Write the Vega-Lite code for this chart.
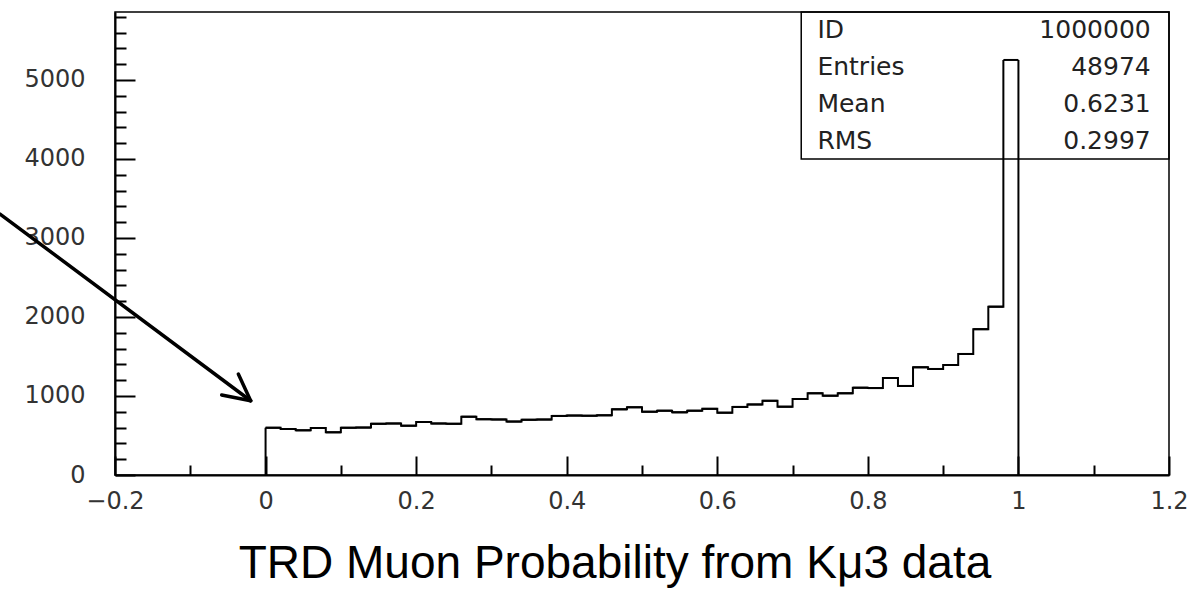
{
  "$schema": "https://vega.github.io/schema/vega-lite/v6.json",
  "width": 1054,
  "height": 463,
  "autosize": {"type": "none"},
  "padding": {"left": 115, "top": 12, "right": 27, "bottom": 115},
  "background": "white",
  "title": {
    "text": "TRD Muon Probability from Kμ3 data",
    "orient": "bottom",
    "anchor": "middle",
    "font": "Liberation Sans",
    "fontSize": 46,
    "fontWeight": "normal",
    "color": "black",
    "dx": -27,
    "offset": 20
  },
  "datasets": {
    "hist": [
      {"lo": 0, "hi": 0.02, "n": 598},
      {"lo": 0.02, "hi": 0.04, "n": 582},
      {"lo": 0.04, "hi": 0.06, "n": 565},
      {"lo": 0.06, "hi": 0.08, "n": 595},
      {"lo": 0.08, "hi": 0.1, "n": 540},
      {"lo": 0.1, "hi": 0.12, "n": 598},
      {"lo": 0.12, "hi": 0.14, "n": 600},
      {"lo": 0.14, "hi": 0.16, "n": 648},
      {"lo": 0.16, "hi": 0.18, "n": 652},
      {"lo": 0.18, "hi": 0.2, "n": 624},
      {"lo": 0.2, "hi": 0.22, "n": 671},
      {"lo": 0.22, "hi": 0.24, "n": 652},
      {"lo": 0.24, "hi": 0.26, "n": 648},
      {"lo": 0.26, "hi": 0.28, "n": 738},
      {"lo": 0.28, "hi": 0.3, "n": 706},
      {"lo": 0.3, "hi": 0.32, "n": 703},
      {"lo": 0.32, "hi": 0.34, "n": 676},
      {"lo": 0.34, "hi": 0.36, "n": 699},
      {"lo": 0.36, "hi": 0.38, "n": 702},
      {"lo": 0.38, "hi": 0.4, "n": 748},
      {"lo": 0.4, "hi": 0.42, "n": 752},
      {"lo": 0.42, "hi": 0.44, "n": 750},
      {"lo": 0.44, "hi": 0.46, "n": 755},
      {"lo": 0.46, "hi": 0.48, "n": 831},
      {"lo": 0.48, "hi": 0.5, "n": 857},
      {"lo": 0.5, "hi": 0.52, "n": 801},
      {"lo": 0.52, "hi": 0.54, "n": 814},
      {"lo": 0.54, "hi": 0.56, "n": 793},
      {"lo": 0.56, "hi": 0.58, "n": 814},
      {"lo": 0.58, "hi": 0.6, "n": 837},
      {"lo": 0.6, "hi": 0.62, "n": 789},
      {"lo": 0.62, "hi": 0.64, "n": 862},
      {"lo": 0.64, "hi": 0.66, "n": 893},
      {"lo": 0.66, "hi": 0.68, "n": 939},
      {"lo": 0.68, "hi": 0.7, "n": 865},
      {"lo": 0.7, "hi": 0.72, "n": 962},
      {"lo": 0.72, "hi": 0.74, "n": 1034},
      {"lo": 0.74, "hi": 0.76, "n": 1004},
      {"lo": 0.76, "hi": 0.78, "n": 1034},
      {"lo": 0.78, "hi": 0.8, "n": 1105},
      {"lo": 0.8, "hi": 0.82, "n": 1100},
      {"lo": 0.82, "hi": 0.84, "n": 1228},
      {"lo": 0.84, "hi": 0.86, "n": 1127},
      {"lo": 0.86, "hi": 0.88, "n": 1363},
      {"lo": 0.88, "hi": 0.9, "n": 1342},
      {"lo": 0.9, "hi": 0.92, "n": 1392},
      {"lo": 0.92, "hi": 0.94, "n": 1532},
      {"lo": 0.94, "hi": 0.96, "n": 1846},
      {"lo": 0.96, "hi": 0.98, "n": 2131},
      {"lo": 0.98, "hi": 1, "n": 5253}
    ],
    "arrow": [
      {"x": -0.3527, "y": 3303, "x2": -0.0198, "y2": 940},
      {"x": -0.0583, "y": 1012, "x2": -0.0198, "y2": 940},
      {"x": -0.0362, "y": 1278, "x2": -0.0198, "y2": 940}
    ],
    "stats": [
      {"row": 1, "label": "ID", "value": "1000000"},
      {"row": 2, "label": "Entries", "value": "48974"},
      {"row": 3, "label": "Mean", "value": "0.6231"},
      {"row": 4, "label": "RMS", "value": "0.2997"}
    ]
  },
  "resolve": {"scale": {"y": "independent"}},
  "layer": [
    {
      "data": {"name": "hist"},
      "mark": {"type": "line", "interpolate": "step-after", "color": "black", "strokeWidth": 2},
      "encoding": {
        "x": {
          "field": "lo", "type": "quantitative",
          "scale": {"domain": [-0.2, 1.2], "nice": false, "zero": false},
          "axis": {
            "orient": "bottom", "title": null,
            "values": [-0.2, -0.15, -0.1, -0.05, 0, 0.05, 0.1, 0.15, 0.2, 0.25, 0.3, 0.35, 0.4, 0.45, 0.5, 0.55, 0.6, 0.65, 0.7, 0.75, 0.8, 0.85, 0.9, 0.95, 1, 1.05, 1.1, 1.15, 1.2],
            "labelExpr": "abs(datum.value*5 - round(datum.value*5)) < 0.000001 ? format(datum.value, '~g') : ''",
            "tickSize": {"condition": {"test": "abs(datum.value*5 - round(datum.value*5)) < 0.000001", "value": -19}, "value": -10},
            "labelPadding": 33,
            "labelFlush": false, "labelOverlap": false, "labelBound": false
          }
        },
        "y": {
          "field": "n", "type": "quantitative",
          "scale": {"domain": [0, 5860], "nice": false, "zero": false},
          "axis": {
            "orient": "left", "title": null,
            "values": [0, 200, 400, 600, 800, 1000, 1200, 1400, 1600, 1800, 2000, 2200, 2400, 2600, 2800, 3000, 3200, 3400, 3600, 3800, 4000, 4200, 4400, 4600, 4800, 5000, 5200, 5400, 5600, 5800],
            "labelExpr": "datum.value % 1000 === 0 ? format(datum.value, 'd') : ''",
            "tickSize": {"condition": {"test": "datum.value % 1000 === 0", "value": -20}, "value": -11},
            "labelPadding": 50,
            "labelFlush": false, "labelOverlap": false, "labelBound": false
          }
        }
      }
    },
    {
      "data": {"name": "hist"},
      "mark": {"type": "rule", "color": "black", "strokeWidth": 2},
      "encoding": {
        "x": {"field": "lo", "type": "quantitative", "scale": {"domain": [-0.2, 1.2], "nice": false, "zero": false}},
        "x2": {"field": "hi"},
        "y": {"field": "n", "type": "quantitative", "scale": {"domain": [0, 5860], "nice": false, "zero": false}, "axis": null}
      }
    },
    {
      "data": {"name": "hist"},
      "transform": [{"filter": "datum.lo == 0"}],
      "mark": {"type": "rule", "color": "black", "strokeWidth": 2},
      "encoding": {
        "x": {"field": "lo", "type": "quantitative", "scale": {"domain": [-0.2, 1.2], "nice": false, "zero": false}},
        "y": {"field": "n", "type": "quantitative", "scale": {"domain": [0, 5860], "nice": false, "zero": true}, "axis": null},
        "y2": {"datum": 0}
      }
    },
    {
      "data": {"name": "hist"},
      "transform": [{"filter": "datum.hi == 1"}],
      "mark": {"type": "rule", "color": "black", "strokeWidth": 2},
      "encoding": {
        "x": {"field": "hi", "type": "quantitative", "scale": {"domain": [-0.2, 1.2], "nice": false, "zero": false}},
        "y": {"field": "n", "type": "quantitative", "scale": {"domain": [0, 5860], "nice": false, "zero": true}, "axis": null},
        "y2": {"datum": 0}
      }
    },
    {
      "data": {"name": "arrow"},
      "mark": {"type": "rule", "color": "black", "strokeWidth": 3.5, "strokeCap": "round"},
      "encoding": {
        "x": {"field": "x", "type": "quantitative", "scale": {"domain": [-0.2, 1.2], "nice": false, "zero": false}},
        "x2": {"field": "x2"},
        "y": {"field": "y", "type": "quantitative", "scale": {"domain": [0, 5860], "nice": false, "zero": false}, "axis": null},
        "y2": {"field": "y2"}
      }
    },
    {
      "data": {"name": "stats"},
      "transform": [{"filter": "datum.row == 1"}],
      "mark": {"type": "rect", "fillOpacity": 0, "stroke": "black", "strokeWidth": 1.5},
      "encoding": {
        "x": {"datum": 0.7115, "type": "quantitative", "scale": {"domain": [-0.2, 1.2], "nice": false, "zero": false}},
        "x2": {"datum": 1.2},
        "y": {"datum": 4000, "type": "quantitative", "scale": {"domain": [0, 5860], "nice": false, "zero": false}, "axis": null},
        "y2": {"datum": 5860}
      }
    },
    {
      "data": {"name": "stats"},
      "mark": {"type": "text", "align": "left", "baseline": "middle", "font": "DejaVu Sans", "fontSize": 25, "color": "#222"},
      "encoding": {
        "x": {"datum": 0.733, "type": "quantitative", "scale": {"domain": [-0.2, 1.2], "nice": false, "zero": false}},
        "y": {"field": "row", "type": "quantitative", "scale": {"domain": [0.5, 13.1], "reverse": true, "nice": false, "zero": false}, "axis": null},
        "text": {"field": "label"}
      }
    },
    {
      "data": {"name": "stats"},
      "mark": {"type": "text", "align": "right", "baseline": "middle", "font": "DejaVu Sans", "fontSize": 25, "color": "#222"},
      "encoding": {
        "x": {"datum": 1.1757, "type": "quantitative", "scale": {"domain": [-0.2, 1.2], "nice": false, "zero": false}},
        "y": {"field": "row", "type": "quantitative", "scale": {"domain": [0.5, 13.1], "reverse": true, "nice": false, "zero": false}, "axis": null},
        "text": {"field": "value"}
      }
    }
  ],
  "config": {
    "view": {"stroke": "black", "strokeWidth": 1.5},
    "axis": {
      "grid": false,
      "domainColor": "black",
      "domainWidth": 2,
      "tickColor": "black",
      "tickWidth": 2,
      "labelFont": "DejaVu Sans",
      "labelFontSize": 24,
      "labelColor": "#333"
    }
  }
}
